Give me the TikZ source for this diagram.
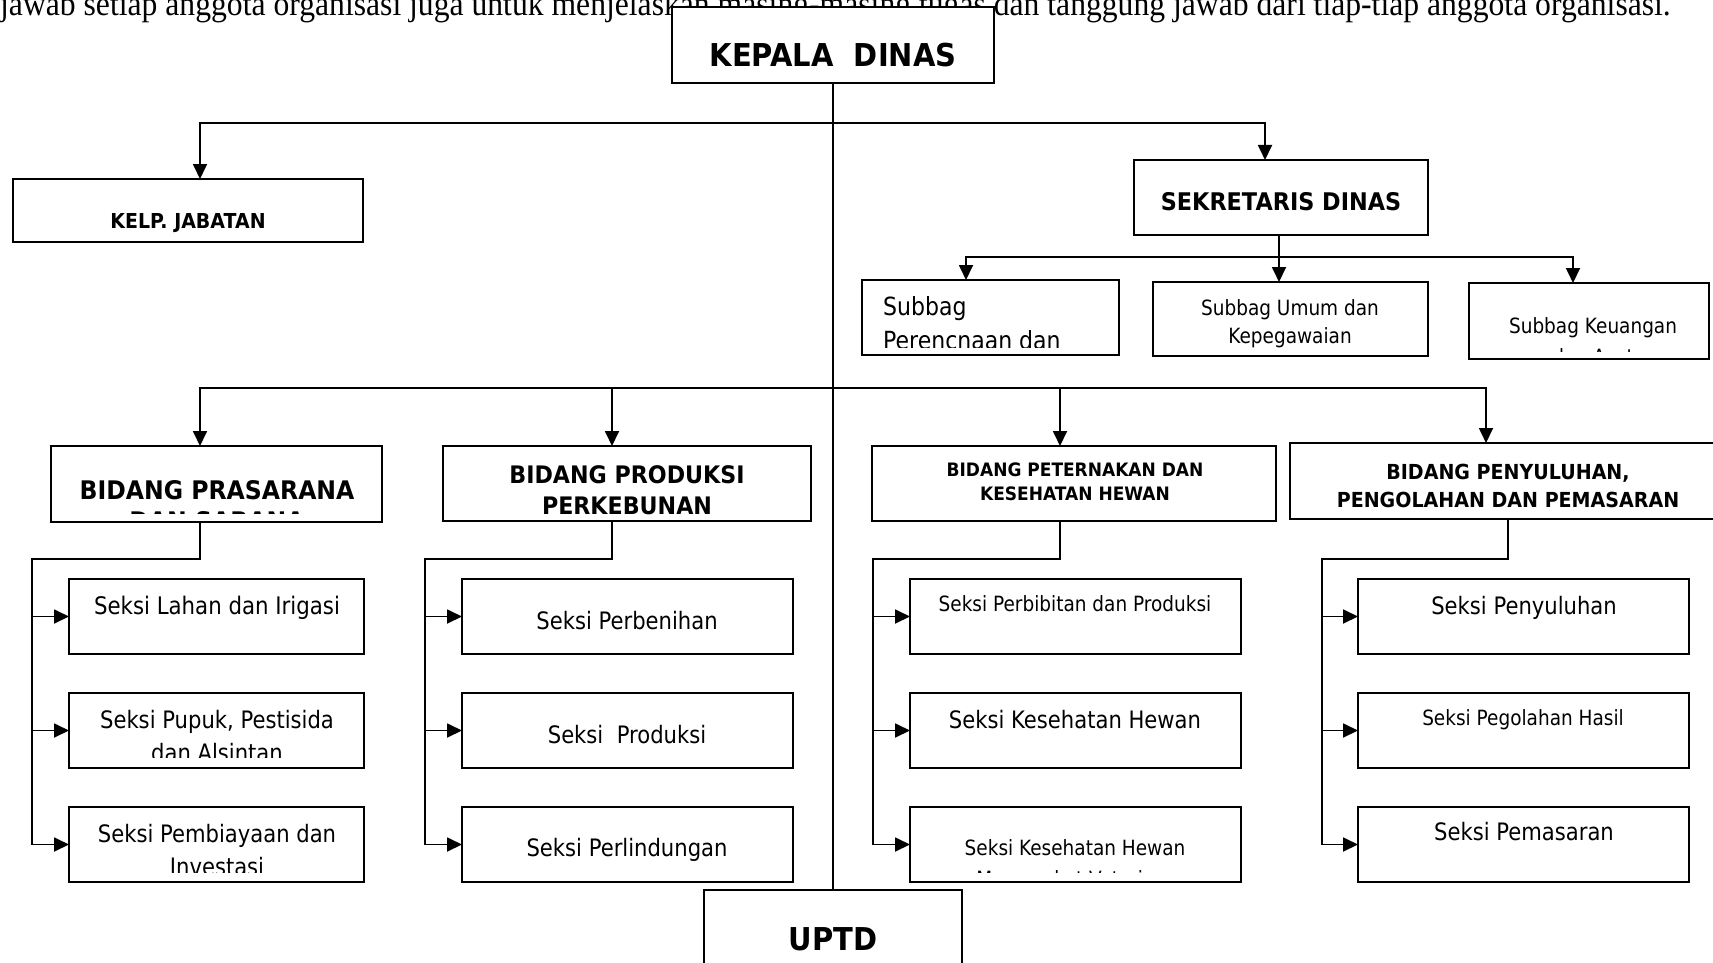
\documentclass[tikz,border=0pt]{standalone}
\usepackage{fontspec}
\setmainfont{DejaVu Sans}[FakeStretch=0.88]
\newfontfamily\hbf{DejaVu Sans}[FakeStretch=0.92]
\newfontfamily\tnr{Liberation Serif}[FakeStretch=0.92]
\usetikzlibrary{arrows.meta}
\newcommand{\fsz}[1]{\fontsize{#1}{#1}\selectfont}
\newcommand{\mkbox}[5]{%
  \pgfmathsetmacro\bw{#4-#2}\pgfmathsetmacro\bh{#5-#3}%
  \pgfmathsetmacro\bcx{(#2+#4)/2}\pgfmathsetmacro\bcy{(#3+#5)/2}%
  \node[boxst, minimum width=\bw pt, minimum height=\bh pt] (#1) at (\bcx,\bcy) {};}
\begin{document}
\begin{tikzpicture}[x=1pt,y=-1pt,
  boxst/.style={draw, line width=1.8pt, fill=white, inner sep=0pt, outer sep=0pt, rectangle},
  con/.style={line width=1.8pt},
  arr/.style={con, -{Triangle[length=15pt,width=14pt]}},
  lbl/.style={inner sep=0pt, anchor=base},
  bl/.style={lbl, font=\hbf\bfseries\fsz{#1}},
  rg/.style={lbl, font=\fsz{#1}}]
\fill[white] (0,0) rectangle (1713,963);
\useasboundingbox (0,0) rectangle (1713,963);

% paragraph text cut at the top
\node[lbl, anchor=base west, font=\tnr\fsz{34.4}] (para) at (0,15.5) {jawab setiap anggota organisasi juga untuk menjelaskan masing-masing tugas dan tanggung jawab dari tiap-tiap anggota organisasi.};

% boxes
\mkbox{kd}{672}{7}{994}{83}
\mkbox{kelp}{13}{179}{363}{242}
\mkbox{sek}{1134}{160}{1428}{235}
\mkbox{sb1}{862}{280}{1119}{355}
\mkbox{sb2}{1153}{282}{1428}{356}
\mkbox{sb3}{1469}{283}{1709}{359}
\mkbox{pras}{51}{446}{382}{522}
\mkbox{prod}{443}{446}{811}{521}
\mkbox{pet}{872}{446}{1276}{521}
\mkbox{pen}{1290}{443}{1725}{519}
\mkbox{s11}{69}{579}{364}{654}
\mkbox{s12}{69}{693}{364}{768}
\mkbox{s13}{69}{807}{364}{882}
\mkbox{s21}{462}{579}{793}{654}
\mkbox{s22}{462}{693}{793}{768}
\mkbox{s23}{462}{807}{793}{882}
\mkbox{s31}{910}{579}{1241}{654}
\mkbox{s32}{910}{693}{1241}{768}
\mkbox{s33}{910}{807}{1241}{882}
\mkbox{s41}{1358}{579}{1689}{654}
\mkbox{s42}{1358}{693}{1689}{768}
\mkbox{s43}{1358}{807}{1689}{882}
\mkbox{uptd}{704}{890}{962}{1000}

% connectors
\coordinate (bus1) at (833,123);
\coordinate (bus2) at (1279,257);
\coordinate (bus3) at (833,388);
\draw[con] (kd.south) -- (uptd.north);
\draw[arr] (bus1) -| ([xshift=12pt]kelp.north);
\draw[arr] (bus1) -| ([xshift=-16pt]sek.north);
\draw[arr] (sek.south -| bus2) -- (bus2 |- sb2.north);
\draw[arr] (bus2) -| ([xshift=-24.5pt]sb1.north);
\draw[arr] (bus2) -| ([xshift=-16pt]sb3.north);
\draw[arr] (bus3) -| ([xshift=-16.5pt]pras.north);
\draw[arr] (bus3) -| ([xshift=-15pt]prod.north);
\draw[arr] (bus3) -| ([xshift=-14pt]pet.north);
\draw[arr] (bus3) -| ([xshift=-21.5pt]pen.north);

\coordinate (v1) at (32,559);
\coordinate (v2) at (425,559);
\coordinate (v3) at (873,559);
\coordinate (v4) at (1322,559);
\draw[arr] ([xshift=-16.5pt]pras.south) |- (v1) |- (s13.west);
\draw[arr] (v1 |- s11.west) -- (s11.west);
\draw[arr] (v1 |- s12.west) -- (s12.west);
\draw[arr] ([xshift=-15pt]prod.south) |- (v2) |- (s23.west);
\draw[arr] (v2 |- s21.west) -- (s21.west);
\draw[arr] (v2 |- s22.west) -- (s22.west);
\draw[arr] ([xshift=-14pt]pet.south) |- (v3) |- (s33.west);
\draw[arr] (v3 |- s31.west) -- (s31.west);
\draw[arr] (v3 |- s32.west) -- (s32.west);
\draw[arr] ([xshift=0.5pt]pen.south) |- (v4) |- (s43.west);
\draw[arr] (v4 |- s41.west) -- (s41.west);
\draw[arr] (v4 |- s42.west) -- (s42.west);

% texts
\node[bl=31.5] (tkd) at (833,67) {KEPALA\ \ DINAS};
\node[bl=20.6] (tkelp) at (188,228) {KELP. JABATAN};
\node[bl=24.3] (tsek) at (1281,210) {SEKRETARIS DINAS};
\node[rg=25, anchor=base west] (tsb1a) at (883,315) {Subbag};
\begin{scope}
\clip (862,280) rectangle (1119,347);
\node[rg=25, anchor=base west] (tsb1b) at (883,349) {Perencnaan dan};
\end{scope}
\node[rg=21] (tsb2a) at (1290,315) {Subbag Umum dan};
\node[rg=21] (tsb2b) at (1290,343) {Kepegawaian};
\node[rg=21] (tsb3a) at (1593,333) {Subbag Keuangan};
\begin{scope}
\clip (1469,283) rectangle (1709,351);
\node[rg=21] (tsb3b) at (1593,364) {dan Aset};
\end{scope}
\node[bl=25.6] (tpras) at (217,499) {BIDANG PRASARANA};
\begin{scope}
\clip (51,446) rectangle (382,513);
\node[bl=25.6] (tpras2) at (217,530.5) {DAN SARANA};
\end{scope}
\node[bl=24.1] (tprod) at (627,483) {BIDANG PRODUKSI};
\node[bl=24.1] (tprod2) at (627,514) {PERKEBUNAN};
\node[bl=18.5] (tpet) at (1075,476) {BIDANG PETERNAKAN DAN};
\node[bl=18.5] (tpet2) at (1075,500) {KESEHATAN HEWAN};
\node[bl=20.7] (tpen) at (1508,479) {BIDANG PENYULUHAN,};
\node[bl=20.7] (tpen2) at (1508,507) {PENGOLAHAN DAN PEMASARAN};

\node[rg=24.2] (ts11) at (217,614) {Seksi Lahan dan Irigasi};
\node[rg=24] (ts12) at (217,728) {Seksi Pupuk, Pestisida};
\begin{scope}
\clip (69,693) rectangle (364,757);
\node[rg=24] (ts12b) at (217,761) {dan Alsintan};
\end{scope}
\node[rg=24] (ts13) at (217,842) {Seksi Pembiayaan dan};
\begin{scope}
\clip (69,807) rectangle (364,872);
\node[rg=24] (ts13b) at (217,875) {Investasi};
\end{scope}
\node[rg=24] (ts21) at (627,629) {Seksi Perbenihan};
\node[rg=24] (ts22) at (627,743) {Seksi\ \ Produksi};
\node[rg=24] (ts23) at (627,856) {Seksi Perlindungan};
\node[rg=21] (ts31) at (1075,611) {Seksi Perbibitan dan Produksi};
\node[rg=24] (ts32) at (1075,728) {Seksi Kesehatan Hewan};
\node[rg=21] (ts33) at (1075,855) {Seksi Kesehatan Hewan};
\begin{scope}
\clip (910,807) rectangle (1241,872);
\node[rg=21] (ts33b) at (1075,886) {Masyarakat Veteriner};
\end{scope}
\node[rg=24] (ts41) at (1524,614) {Seksi Penyuluhan};
\node[rg=21] (ts42) at (1523,725) {Seksi Pegolahan Hasil};
\node[rg=24] (ts43) at (1524,840) {Seksi Pemasaran};
\node[bl=31.5] (tuptd) at (833,950) {UPTD};
\end{tikzpicture}
\end{document}
